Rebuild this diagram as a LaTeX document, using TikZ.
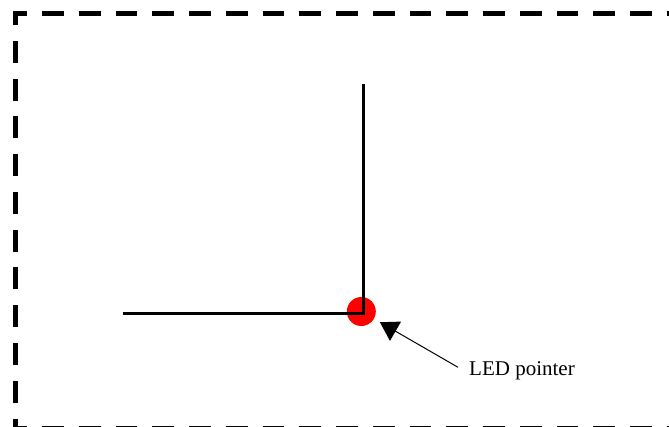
\documentclass[tikz,border=0pt]{standalone}
\usepackage{fontspec}
\setmainfont{Liberation Serif}
\usetikzlibrary{arrows.meta}

\begin{document}
\begin{tikzpicture}[x=1pt, y=-1pt,
  hframe/.style={line width=5pt, line cap=rect, dash pattern=on 16.7pt off 20.05pt, dash phase=7.7pt},
  vframe/.style={line width=5pt, line cap=rect, dash pattern=on 17pt off 20.78pt, dash phase=8pt},
  wire/.style={line width=2.7pt, line join=miter},
  led/.style={circle, fill=red, minimum size=29pt, inner sep=0pt, outer sep=0pt},
  lbl/.style={font=\fontsize{21}{25}\selectfont, inner sep=0pt, anchor=base west},
  arr/.style={line width=1pt, -{Triangle[length=18pt, width=22pt]}, shorten >=7pt}
]
\useasboundingbox (0,0) rectangle (669,427);
\clip (0,0) rectangle (669,427);
\draw[hframe] (15.5,13.5) -- (700,13.5);
\draw[hframe] (15.5,428) -- (700,428);
\draw[vframe] (15.5,13.5) -- (15.5,428);
\node[led] (pointer) at (361.3,311.5) {};
\draw[wire] (123,313.3) -- (363.6,313.3) -- (363.6,84);
\node[lbl] (ledlabel) at (469,375) {LED pointer};
\coordinate (tail) at ([xshift=-11pt, yshift=3pt]ledlabel.west);
\draw[arr] (tail) -- (pointer);
\end{tikzpicture}
\end{document}
